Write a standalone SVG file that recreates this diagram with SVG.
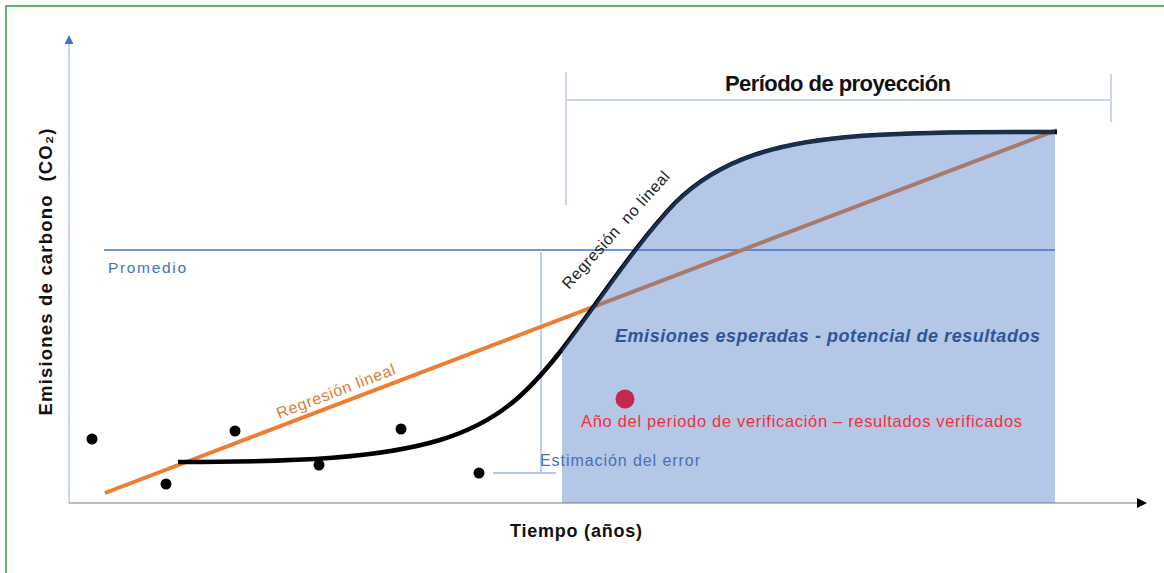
<svg xmlns="http://www.w3.org/2000/svg" width="1164" height="573" viewBox="0 0 1164 573">
<defs>
<style>
.t{font-family:"Liberation Sans",Arial,sans-serif}
.guide{stroke:#c9d7f0;stroke-width:2;fill:none}
.dot{fill:#000}
</style>
<marker id="arrBlue" viewBox="0 0 10 10" refX="9" refY="5" markerWidth="9" markerHeight="9" markerUnits="userSpaceOnUse" orient="auto"><path d="M0,0 L10,5 L0,10 Z" fill="#4472c4"/></marker>
<marker id="arrBlack" viewBox="0 0 10 10" refX="9" refY="5" markerWidth="10" markerHeight="10" markerUnits="userSpaceOnUse" orient="auto"><path d="M0,0 L10,5 L0,10 Z" fill="#000"/></marker>
</defs>
<rect x="0" y="0" width="1164" height="573" fill="#fff"/>
<g id="frame">
<line x1="6" y1="6" x2="1164" y2="6" stroke="#5cb85c" stroke-width="2"/>
<line x1="6" y1="5" x2="6" y2="573" stroke="#5cb85c" stroke-width="2"/>
</g>
<g id="connectors">
<line x1="69" y1="503" x2="69" y2="36" stroke="#c9d7f0" stroke-width="2" marker-end="url(#arrBlue)"/>
<line x1="69" y1="503" x2="1146" y2="503" stroke="#a6a6a6" stroke-width="1.6" marker-end="url(#arrBlack)"/>
<line id="promedio-line" x1="104" y1="250" x2="1055" y2="250" stroke="#4472c4" stroke-width="1.5"/>
<path id="error-bracket" d="M541,252 L541,473 M493,473 L556,473" stroke="#9fb7e0" stroke-width="1.3" fill="none"/>
<path id="period-bracket" class="guide" d="M566,72 L566,205 M566,100 L1111,100 M1111,74 L1111,122"/>
<line id="linear" x1="105" y1="493" x2="1057" y2="130" stroke="#ed7d31" stroke-width="4"/>
<path id="nonlinear" d="M178,462 C300,462 380,458 440,440 C500,422 530,390 560,352 C600,300 635,245 675,203 C720,158 780,142 860,136 C940,131 1000,132 1057,132" stroke="#000" stroke-width="4.5" fill="none"/>
</g>
<g id="points">
<circle class="dot" cx="92" cy="439" r="5.5"/>
<circle class="dot" cx="166" cy="484" r="5.5"/>
<circle class="dot" cx="235" cy="431" r="5.5"/>
<circle class="dot" cx="319" cy="465" r="5.5"/>
<circle class="dot" cx="401" cy="429" r="5.5"/>
<circle class="dot" cx="479" cy="473" r="5.5"/>
</g>
<g id="projection-area">
<path d="M562,503 L562,349 C600,298 635,243 675,201 C720,156 780,140 860,134 C940,129 1000,130 1055,130 L1055,503 Z" fill="#4472c4" fill-opacity="0.4"/>
</g>
<g id="verified-point">
<circle cx="625" cy="399" r="9.5" fill="#c3294f"/>
</g>
<g id="labels">
<text class="t" x="838" y="91" font-size="22" font-weight="bold" text-anchor="middle" fill="#111" textLength="226">Período de proyección</text>
<text class="t" x="108" y="273" font-size="15.5" fill="#4472c4" textLength="78">Promedio</text>
<text class="t" x="540" y="466" font-size="16" fill="#4a6fb3" textLength="160">Estimación del error</text>
<text class="t" x="615" y="342" font-size="18" font-weight="bold" font-style="italic" fill="#2f5597" textLength="425">Emisiones esperadas - potencial de resultados</text>
<text class="t" x="581" y="427" font-size="16.5" fill="#f2303c" textLength="441">Año del periodo de verificación – resultados verificados</text>
<text class="t" transform="translate(279,419) rotate(-21)" font-size="16" fill="#e07b35" textLength="126">Regresión lineal</text>
<text class="t" transform="translate(569,290) rotate(-48)" font-size="16" fill="#222" textLength="152" xml:space="preserve">Regresión  no lineal</text>
<text class="t" x="576" y="537" font-size="18" font-weight="bold" text-anchor="middle" fill="#111" textLength="132">Tiempo (años)</text>
<text class="t" transform="translate(52,272) rotate(-90)" font-size="18.5" font-weight="bold" text-anchor="middle" fill="#111" textLength="287" xml:space="preserve">Emisiones de carbono  (CO₂)</text>
</g>
</svg>
